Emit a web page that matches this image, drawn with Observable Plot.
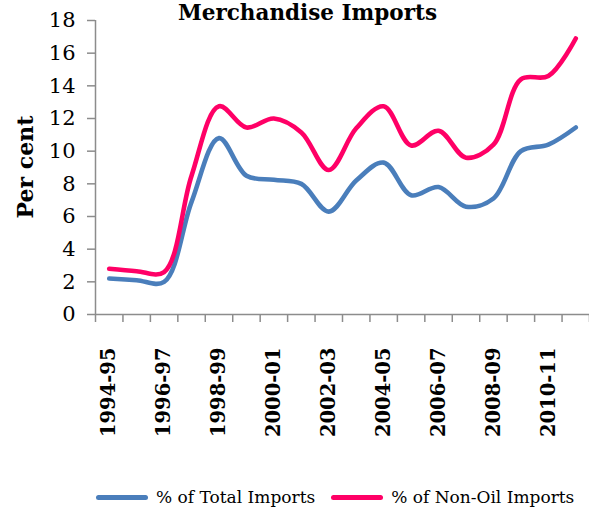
<!DOCTYPE html>
<html>
<head>
<meta charset="utf-8">
<script src="https://cdn.jsdelivr.net/npm/d3@7"></script>
<script src="https://cdn.jsdelivr.net/npm/@observablehq/plot@0.6"></script>
<style>
  html, body { margin: 0; padding: 0; background: #fff; overflow: hidden; }
  #wrap { position: relative; width: 589px; height: 510px; overflow: hidden; }
  #title { position: absolute; left: 0; width: 589px; box-sizing: border-box; padding-left: 26px; top: 0px; line-height: normal; text-align: center; font-weight: bold; font-size: 21.5px; font-family: "DejaVu Serif", serif; color: #000; }
  #ylabel { position: absolute; left: 25px; top: 167px; transform: translate(-50%, -50%) rotate(-90deg); font: bold 22px "DejaVu Serif", serif; white-space: nowrap; }
  #legend { position: absolute; top: 487px; left: 96px; font: 17px "DejaVu Serif", serif; white-space: nowrap; display: flex; align-items: center; }
  .sw { display: inline-block; width: 52px; height: 5px; border-radius: 3px; margin-right: 8px; }
  .item { display: inline-flex; align-items: center; margin-right: 16px; }
  #chart { position: absolute; left: 0; top: 0; }
</style>
</head>
<body>
<div id="wrap">
  <div id="chart"></div>
  <div id="title">Merchandise Imports</div>
  <div id="ylabel">Per cent</div>
  <div id="legend"></div>
</div>
<script>
const categories = ["1994-95","1995-96","1996-97","1997-98","1998-99","1999-00","2000-01","2001-02","2002-03","2003-04","2004-05","2005-06","2006-07","2007-08","2008-09","2009-10","2010-11","2011-12"];
const totalImports = [2.2, 2.1, 2.0, 6.9, 10.8, 8.5, 8.25, 8.0, 6.3, 8.2, 9.3, 7.3, 7.8, 6.6, 7.1, 10.0, 10.4, 11.45];
const nonOilImports = [2.8, 2.65, 2.6, 8.5, 12.75, 11.45, 12.0, 11.15, 8.85, 11.4, 12.75, 10.35, 11.25, 9.6, 10.4, 14.4, 14.6, 16.9];
const seriesNames = ["% of Total Imports", "% of Non-Oil Imports"];
const seriesColors = ["#4A7EBB", "#FF0066"];
const yTicks = [0, 2, 4, 6, 8, 10, 12, 14, 16, 18];

const rows = [];
categories.forEach((c, i) => {
  rows.push({i, cat: c, series: seriesNames[0], value: totalImports[i]});
  rows.push({i, cat: c, series: seriesNames[1], value: nonOilImports[i]});
});
const labelIdx = categories.map((c, i) => i).filter(i => i % 2 === 0);
const axisGray = "#8c8c8c";

const chart = Plot.plot({
  width: 589,
  height: 450,
  marginLeft: 95,
  marginRight: 0,
  marginTop: 20,
  marginBottom: 136,
  style: {fontFamily: "DejaVu Serif, serif", fontSize: "20px", color: "#000", background: "transparent", overflow: "visible"},
  x: {type: "linear", domain: [0, categories.length], axis: null},
  y: {domain: [0, 18], axis: null},
  color: {domain: seriesNames, range: seriesColors},
  marks: [
    Plot.axisY({ticks: yTicks, tickSize: 8, tickPadding: 12, stroke: axisGray, strokeWidth: 1.5, strokeOpacity: 1, fill: "#000", fontSize: 21, label: null}),
    Plot.axisX({ticks: d3.range(0, categories.length + 1), tickSize: 8, tickFormat: () => "", stroke: axisGray, strokeWidth: 1.5, strokeOpacity: 1, label: null}),
    Plot.axisX({ticks: labelIdx.map(i => i + 0.5), tickSize: 0, tickPadding: 33, tickRotate: -90, tickFormat: d => categories[Math.round(d - 0.5)], fontSize: 19.5, fontWeight: "bold", fill: "#000", label: null}),
    Plot.ruleX([0], {stroke: axisGray, strokeWidth: 1.5}),
    Plot.ruleY([0], {stroke: axisGray, strokeWidth: 1.5}),
    Plot.line(rows, {x: d => d.i + 0.5, y: "value", z: "series", stroke: "series", strokeWidth: 4.6, curve: "catmull-rom"})
  ]
});
document.getElementById("chart").appendChild(chart);

const legend = document.getElementById("legend");
seriesNames.forEach((n, k) => {
  const item = document.createElement("span");
  item.className = "item";
  const sw = document.createElement("span");
  sw.className = "sw";
  sw.style.background = seriesColors[k];
  item.appendChild(sw);
  item.appendChild(document.createTextNode(n));
  legend.appendChild(item);
});
</script>
</body>
</html>
